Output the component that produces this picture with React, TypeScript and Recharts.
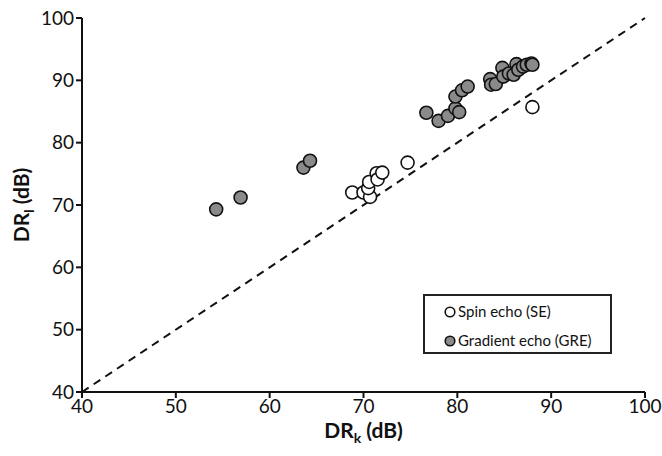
import {
  Legend,
  ReferenceLine,
  Scatter,
  ScatterChart,
  XAxis,
  YAxis,
} from "recharts";

// DR_k (x) vs DR_l (y)
const spinEcho = [
  { x: 68.8, y: 72.0 },
  { x: 70.0, y: 72.0 },
  { x: 70.7, y: 71.3 },
  { x: 70.5, y: 72.7 },
  { x: 70.6, y: 73.7 },
  { x: 71.4, y: 75.1 },
  { x: 71.5, y: 74.1 },
  { x: 72.0, y: 75.2 },
  { x: 74.7, y: 76.8 },
  { x: 88.0, y: 85.7 },
];

const gradientEcho = [
  { x: 54.3, y: 69.3 },
  { x: 56.9, y: 71.2 },
  { x: 63.6, y: 76.0 },
  { x: 64.3, y: 77.1 },
  { x: 76.7, y: 84.8 },
  { x: 78.0, y: 83.5 },
  { x: 79.0, y: 84.3 },
  { x: 79.8, y: 85.5 },
  { x: 80.2, y: 84.9 },
  { x: 79.8, y: 87.4 },
  { x: 80.5, y: 88.4 },
  { x: 81.1, y: 89.0 },
  { x: 83.5, y: 90.2 },
  { x: 83.6, y: 89.3 },
  { x: 84.1, y: 89.4 },
  { x: 84.8, y: 92.0 },
  { x: 84.9, y: 90.6 },
  { x: 85.5, y: 91.1 },
  { x: 86.0, y: 90.9 },
  { x: 86.3, y: 92.6 },
  { x: 86.5, y: 91.7 },
  { x: 87.0, y: 92.2 },
  { x: 87.4, y: 92.5 },
  { x: 87.9, y: 92.7 },
  { x: 88.0, y: 92.5 },
];

const axisTicks = [40, 50, 60, 70, 80, 90, 100];
const identityLine = [
  { x: 40, y: 40 },
  { x: 100, y: 100 },
];

const FONT = "Lato, 'Open Sans', sans-serif";
const GREY = "#8a8a8a";

const series = [
  { name: "Spin echo (SE)", data: spinEcho, fill: "#ffffff" },
  { name: "Gradient echo (GRE)", data: gradientEcho, fill: GREY },
];

const dot = (fill: string) => (props: any) =>
  <circle cx={props.cx} cy={props.cy} r={6.5} fill={fill} stroke="#111" strokeWidth={1.6} />;

const xTitle = (props: any) => {
  const { x, y, width } = props.viewBox;
  return (
    <text x={x + width / 2} y={y + 46} textAnchor="middle" fontFamily={FONT} fontWeight={700} fontSize={21} fill="#111">
      DR<tspan fontSize={14} dy={5}>k</tspan>
      <tspan dy={-5}> (dB)</tspan>
    </text>
  );
};

const yTitle = (props: any) => {
  const { y, height } = props.viewBox;
  const cx = 29;
  const cy = y + height / 2;
  return (
    <text x={cx} y={cy} transform={`rotate(-90 ${cx} ${cy})`} textAnchor="middle" fontFamily={FONT} fontWeight={700} fontSize={21} fill="#111">
      DR<tspan fontSize={14} dy={5}>l</tspan>
      <tspan dy={-5}> (dB)</tspan>
    </text>
  );
};

// fixed order as in the figure (recharts sorts payload otherwise)
const legendBox = () => (
  <div
    style={{
      width: 189,
      height: 60,
      boxSizing: "border-box",
      border: "2px solid #222",
      background: "#fff",
      fontFamily: FONT,
      fontSize: 15,
      color: "#111",
      paddingTop: 1,
    }}
  >
    {series.map((s) => (
      <div key={s.name} style={{ display: "flex", alignItems: "center", height: 29, paddingLeft: 19, lineHeight: "15px" }}>
        <svg width={12} height={12} style={{ marginRight: 2, flex: "none" }}>
          <circle cx={6} cy={6} r={4.8} fill={s.fill} stroke="#111" strokeWidth={1.6} />
        </svg>
        <span>{s.name}</span>
      </div>
    ))}
  </div>
);

export default function App() {
  return (
    <div style={{ position: "absolute", left: 0, top: 0, background: "#fff" }}>
      <ScatterChart width={662} height={456} margin={{ top: 18, right: 17, bottom: 0, left: 0 }}>
        <XAxis
          type="number"
          dataKey="x"
          domain={[40, 100]}
          ticks={axisTicks}
          interval={0}
          height={64}
          allowDataOverflow
          axisLine={{ stroke: "#111", strokeWidth: 2 }}
          tickLine={{ stroke: "#111", strokeWidth: 2 }}
          tickSize={6}
          tick={{ fill: "#111", fontSize: 19, fontFamily: FONT }}
          label={xTitle}
        />
        <YAxis
          type="number"
          dataKey="y"
          domain={[40, 100]}
          ticks={axisTicks}
          interval={0}
          width={82}
          allowDataOverflow
          axisLine={{ stroke: "#111", strokeWidth: 2 }}
          tickLine={{ stroke: "#111", strokeWidth: 2 }}
          tickSize={6}
          tick={{ fill: "#111", fontSize: 19, fontFamily: FONT }}
          label={yTitle}
        />
        <ReferenceLine segment={identityLine} stroke="#111" strokeWidth={2} strokeDasharray="8 6" ifOverflow="visible" />
        <Legend verticalAlign="middle" align="center" content={legendBox} wrapperStyle={{ left: 423, top: 294, width: 189, height: 60 }} />
        {series.map((s) => (
          <Scatter key={s.name} name={s.name} data={s.data} fill={s.fill} shape={dot(s.fill)} isAnimationActive={false} />
        ))}
      </ScatterChart>
    </div>
  );
}
